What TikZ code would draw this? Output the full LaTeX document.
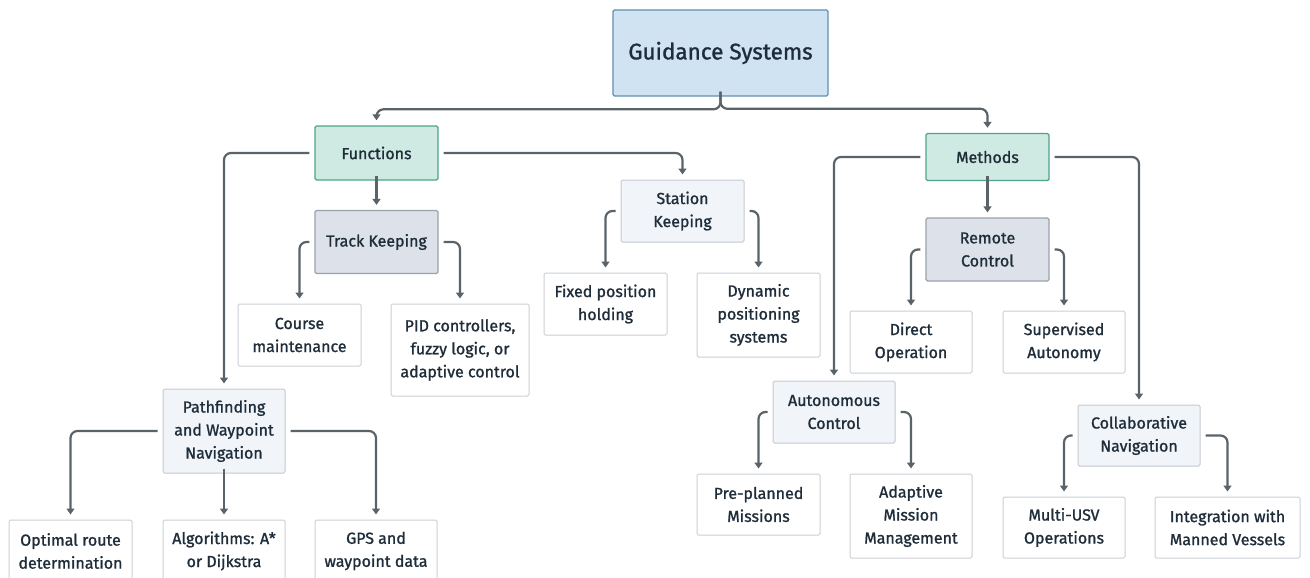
\documentclass[tikz,border=0pt]{standalone}
\usepackage{fontspec}
\setmainfont{Fira Sans}[FakeBold=1.2]
\usetikzlibrary{arrows.meta,calc}
\definecolor{txt}{HTML}{1F2D3A}
\definecolor{lnk}{HTML}{5A6368}
\definecolor{gsfill}{HTML}{CFE3F3}
\definecolor{gsdraw}{HTML}{5F8FAE}
\definecolor{tealfill}{HTML}{CFEAE2}
\definecolor{tealdraw}{HTML}{4FA38A}
\definecolor{grayfill}{HTML}{DDE2EA}
\definecolor{graydraw}{HTML}{9AA2AA}
\definecolor{palefill}{HTML}{F1F5F9}
\definecolor{paledraw}{HTML}{C3C9CF}
\definecolor{leafdraw}{HTML}{CBCFD3}
\tikzset{
  box/.style={rectangle, rounded corners=1.5, align=center, text=txt, inner sep=2pt, font=\fontsize{16}{23}\selectfont},
  rootbox/.style={box, fill=gsfill, draw=gsdraw, line width=1.4, font=\fontsize{22.5}{26}\selectfont},
  mainbox/.style={box, fill=tealfill, draw=tealdraw, line width=1.4},
  subbox/.style={box, fill=grayfill, draw=graydraw, line width=1.2},
  palebox/.style={box, fill=palefill, draw=paledraw, line width=1},
  leafbox/.style={box, fill=white, draw=leafdraw, line width=1},
  conn/.style={draw=lnk, line width=2.2, rounded corners=7, -{Triangle[width=8,length=6]}, shorten >=5},
}
\begin{document}
\begin{tikzpicture}[x=1pt,y=-1pt]
\useasboundingbox (0,0) rectangle (1310,578);
% nodes
\node[rootbox, minimum width=215, minimum height=86] (gs) at (720.5,53) {Guidance Systems};
\node[mainbox, minimum width=123, minimum height=54] (fun) at (376.5,153) {Functions};
\node[subbox, minimum width=123, minimum height=63] (tk) at (376.5,242) {Track Keeping};
\node[palebox, minimum width=123, minimum height=62] (sk) at (682.5,211) {Station\\Keeping};
\node[leafbox, minimum width=123, minimum height=62] (cm) at (299.5,335) {Course\\maintenance};
\node[leafbox, minimum width=138, minimum height=92] (pid) at (460,350) {PID controllers,\\fuzzy logic, or\\adaptive control};
\node[leafbox, minimum width=123, minimum height=62] (fph) at (605.5,304) {Fixed position\\holding};
\node[leafbox, minimum width=123, minimum height=84] (dps) at (758.5,315) {Dynamic\\positioning\\systems};
\node[palebox, minimum width=122, minimum height=84] (pf) at (224,431) {Pathfinding\\and Waypoint\\Navigation};
\node[leafbox, minimum width=123, minimum height=62] (orr) at (70.5,551) {Optimal route\\determination};
\node[leafbox, minimum width=122, minimum height=62] (alg) at (224,551) {Algorithms: A*\\or Dijkstra};
\node[leafbox, minimum width=122, minimum height=62] (gps) at (376,551) {GPS and\\waypoint data};
\node[mainbox, minimum width=123, minimum height=47] (met) at (987.5,157) {Methods};
\node[subbox, minimum width=123, minimum height=63] (rc) at (987.5,249.5) {Remote\\Control};
\node[leafbox, minimum width=122, minimum height=62] (dop) at (911,342) {Direct\\Operation};
\node[leafbox, minimum width=122, minimum height=62] (sa) at (1064,342) {Supervised\\Autonomy};
\node[palebox, minimum width=122, minimum height=62] (ac) at (834,412) {Autonomous\\Control};
\node[palebox, minimum width=122, minimum height=61] (cn) at (1139,435.5) {Collaborative\\Navigation};
\node[leafbox, minimum width=123, minimum height=61] (pp) at (758.5,504.5) {Pre-planned\\Missions};
\node[leafbox, minimum width=122, minimum height=84] (amm) at (911,516) {Adaptive\\Mission\\Management};
\node[leafbox, minimum width=122, minimum height=61] (mu) at (1064,527.5) {Multi-USV\\Operations};
\node[leafbox, minimum width=145, minimum height=61] (iw) at (1227.5,527.5) {Integration with\\Manned Vessels};
% connectors
\draw[conn] ([yshift=5]gs.south) |- ($(fun.north)+(0,-16)$) -- (fun.north);
\draw[conn] ([yshift=5]gs.south) |- ($(met.north)+(0,-24)$) -- (met.north);
\draw[conn] ([yshift=5]fun.south) -- (tk.north);
\draw[conn] ([xshift=-5]fun.west) -| (pf.north);
\draw[conn] ([xshift=5]fun.east) -| (sk.north);
\draw[conn] ([xshift=-5]tk.west) -| (cm.north);
\draw[conn] ([xshift=5]tk.east) -| (pid.north);
\draw[conn] ([xshift=-5]sk.west) -| (fph.north);
\draw[conn] ([xshift=5]sk.east) -| (dps.north);
\draw[conn] ([xshift=-5]pf.west) -| (orr.north);
\draw[conn] ([yshift=5]pf.south) -- (alg.north);
\draw[conn] ([xshift=5]pf.east) -| (gps.north);
\draw[conn] ([yshift=5]met.south) -- (rc.north);
\draw[conn] ([xshift=-5]met.west) -| (ac.north);
\draw[conn] ([xshift=5]met.east) -| (cn.north);
\draw[conn] ([xshift=-5]rc.west) -| (dop.north);
\draw[conn] ([xshift=5]rc.east) -| (sa.north);
\draw[conn] ([xshift=-5]ac.west) -| (pp.north);
\draw[conn] ([xshift=5]ac.east) -| (amm.north);
\draw[conn] ([xshift=-5]cn.west) -| (mu.north);
\draw[conn] ([xshift=5]cn.east) -| (iw.north);
\end{tikzpicture}
\end{document}
